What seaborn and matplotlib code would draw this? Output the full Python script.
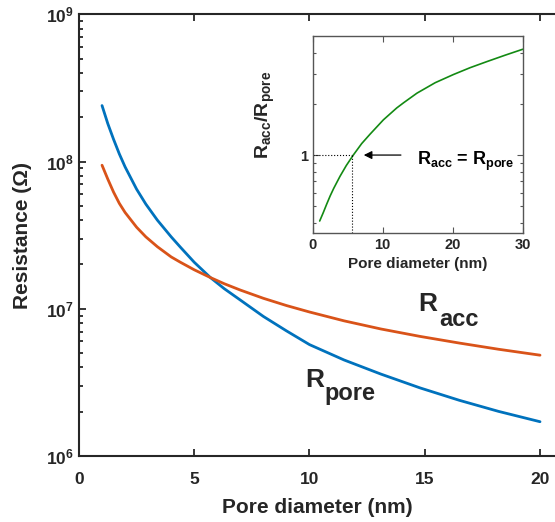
import numpy as np
import pandas as pd
import seaborn as sns
import matplotlib
matplotlib.use('Agg')
from matplotlib import pyplot as plt
from matplotlib.ticker import NullFormatter, LogLocator, FixedLocator, FixedFormatter

# values
diameter = [1.0, 1.25, 1.5, 1.75, 2.0, 2.5, 2.9, 3.4, 4.0, 4.4, 5.0, 5.7,
            6.3, 7.0, 8.0, 9.0, 10.0, 11.5, 13.1, 14.8, 16.5, 18.2, 20.0]
r_pore = [2.40e8, 1.81e8, 1.416e8, 1.127e8, 9.20e7, 6.49e7, 5.14e7, 4.00e7, 3.08e7, 2.62e7, 2.07e7, 1.63e7,
          1.37e7, 1.146e7, 8.87e6, 7.08e6, 5.71e6, 4.49e6, 3.60e6, 2.90e6, 2.39e6, 2.01e6, 1.71e6]
r_acc = [9.44e7, 7.60e7, 6.20e7, 5.20e7, 4.51e7, 3.58e7, 3.08e7, 2.64e7, 2.25e7, 2.07e7, 1.84e7, 1.63e7,
         1.48e7, 1.34e7, 1.178e7, 1.052e7, 9.51e6, 8.28e6, 7.29e6, 6.49e6, 5.85e6, 5.31e6, 4.84e6]

inset_diameter = [1.0, 1.5, 2.0, 2.5, 3.0, 3.9, 4.8, 5.8, 7.0, 8.2, 10.1, 12.0, 13.0, 14.9,
                  17.5, 20.1, 22.5, 24.9, 27.5, 30.0]
inset_ratio = [0.41, 0.458, 0.515, 0.576, 0.637, 0.75, 0.868, 1.0, 1.168, 1.327, 1.61, 1.89, 2.03, 2.31,
               2.66, 2.97, 3.26, 3.54, 3.86, 4.18]
cross_d = 5.65
cross_ratio = 1.0

sns.set_theme(style='ticks')
plt.rcParams['font.family'] = ['Liberation Sans', 'DejaVu Sans']
plt.rcParams['font.weight'] = 'bold'
plt.rcParams['axes.labelweight'] = 'bold'
plt.rcParams['mathtext.fontset'] = 'custom'
plt.rcParams['mathtext.bf'] = 'Liberation Sans:bold'
plt.rcParams['mathtext.rm'] = 'Liberation Sans:bold'
plt.rcParams['mathtext.default'] = 'bf'

dark = '#262626'
fig = plt.figure(figsize=(5.55, 5.22), dpi=100)
ax = fig.add_axes([0.1423, 0.1264, 0.8577, 0.8462])

df = pd.DataFrame({'d': diameter, 'pore': r_pore, 'acc': r_acc})
sns.lineplot(data=df, x='d', y='pore', ax=ax, color='#0072BD', lw=2.0)
sns.lineplot(data=df, x='d', y='acc', ax=ax, color='#D95319', lw=2.0)
ax.set_yscale('log')
ax.set_xlim(0, 20.65)
ax.set_ylim(1e6, 1e9)
ax.set_xticks([0, 5, 10, 15, 20])
ax.set_yticks([1e6, 1e7, 1e8, 1e9])
ax.yaxis.set_minor_locator(LogLocator(base=10, subs=np.arange(2, 10)))
ax.yaxis.set_minor_formatter(NullFormatter())
ax.spines['right'].set_visible(False)
for s in ['left', 'top', 'bottom']:
    ax.spines[s].set_linewidth(1.5)
    ax.spines[s].set_color(dark)
ax.tick_params(which='both', direction='in', top=True, width=1.3, color=dark,
               labelsize=12.5, labelcolor=dark)
ax.tick_params(which='major', length=5)
ax.tick_params(which='minor', length=3)
ax.tick_params(axis='x', pad=11.5)
ax.tick_params(axis='y', pad=4)
ax.set_xlabel('Pore diameter (nm)', fontsize=15, color=dark, labelpad=8)
ax.set_ylabel('Resistance (Ω)', fontsize=15, color=dark, labelpad=10)

# curve names
ax.text(14.7, 9.7e6, 'R', fontsize=19, fontweight='bold', va='baseline')
ax.text(15.62, 7.63e6, 'acc', fontsize=17, fontweight='bold', va='baseline')
ax.text(9.8, 2.95e6, 'R', fontsize=19, fontweight='bold', va='baseline')
ax.text(10.67, 2.40e6, 'pore', fontsize=17, fontweight='bold', va='baseline')

# inset
ax_in = fig.add_axes([0.5634, 0.5542, 0.3784, 0.3768])
di = pd.DataFrame({'d': inset_diameter, 'ratio': inset_ratio})
sns.lineplot(data=di, x='d', y='ratio', ax=ax_in, color='#138a13', lw=1.2)
ax_in.set_yscale('log')
ax_in.set_xlim(0, 30)
ax_in.set_ylim(0.35, 5)
ax_in.set_xticks([0, 10, 20, 30])
ax_in.yaxis.set_major_locator(FixedLocator([1]))
ax_in.yaxis.set_major_formatter(FixedFormatter(['1']))
ax_in.yaxis.set_minor_locator(FixedLocator([0.4, 0.5, 0.6, 0.7, 0.8, 0.9, 2, 3, 4]))
ax_in.yaxis.set_minor_formatter(NullFormatter())
for s in ax_in.spines.values():
    s.set_linewidth(1.0)
    s.set_color('#555555')
ax_in.tick_params(which='both', direction='in', top=True, right=True, width=0.8,
                  color='#555555', labelsize=10.5, labelcolor=dark)
ax_in.tick_params(which='major', length=4)
ax_in.tick_params(which='minor', length=2.5)
ax_in.set_xlabel('Pore diameter (nm)', fontsize=11, color=dark, labelpad=4)
ax_in.set_ylabel(r'$R_{acc}/R_{pore}$', fontsize=14, color=dark)
ax_in.yaxis.set_label_coords(-0.17, 0.60)

ax_in.plot([0, cross_d], [cross_ratio, cross_ratio], ls=':', color='black', lw=0.8)
ax_in.plot([cross_d, cross_d], [0.35, cross_ratio], ls=':', color='black', lw=0.8)
ax_in.annotate('', xy=(6.9, cross_ratio), xytext=(13.0, cross_ratio),
               arrowprops=dict(arrowstyle='-|>', color='black', lw=0.9, mutation_scale=12))
ax_in.text(14.9, 0.88, r'$R_{acc}$ = $R_{pore}$', fontsize=13, va='baseline', color='black')

fig.savefig('out.png', dpi=100)
